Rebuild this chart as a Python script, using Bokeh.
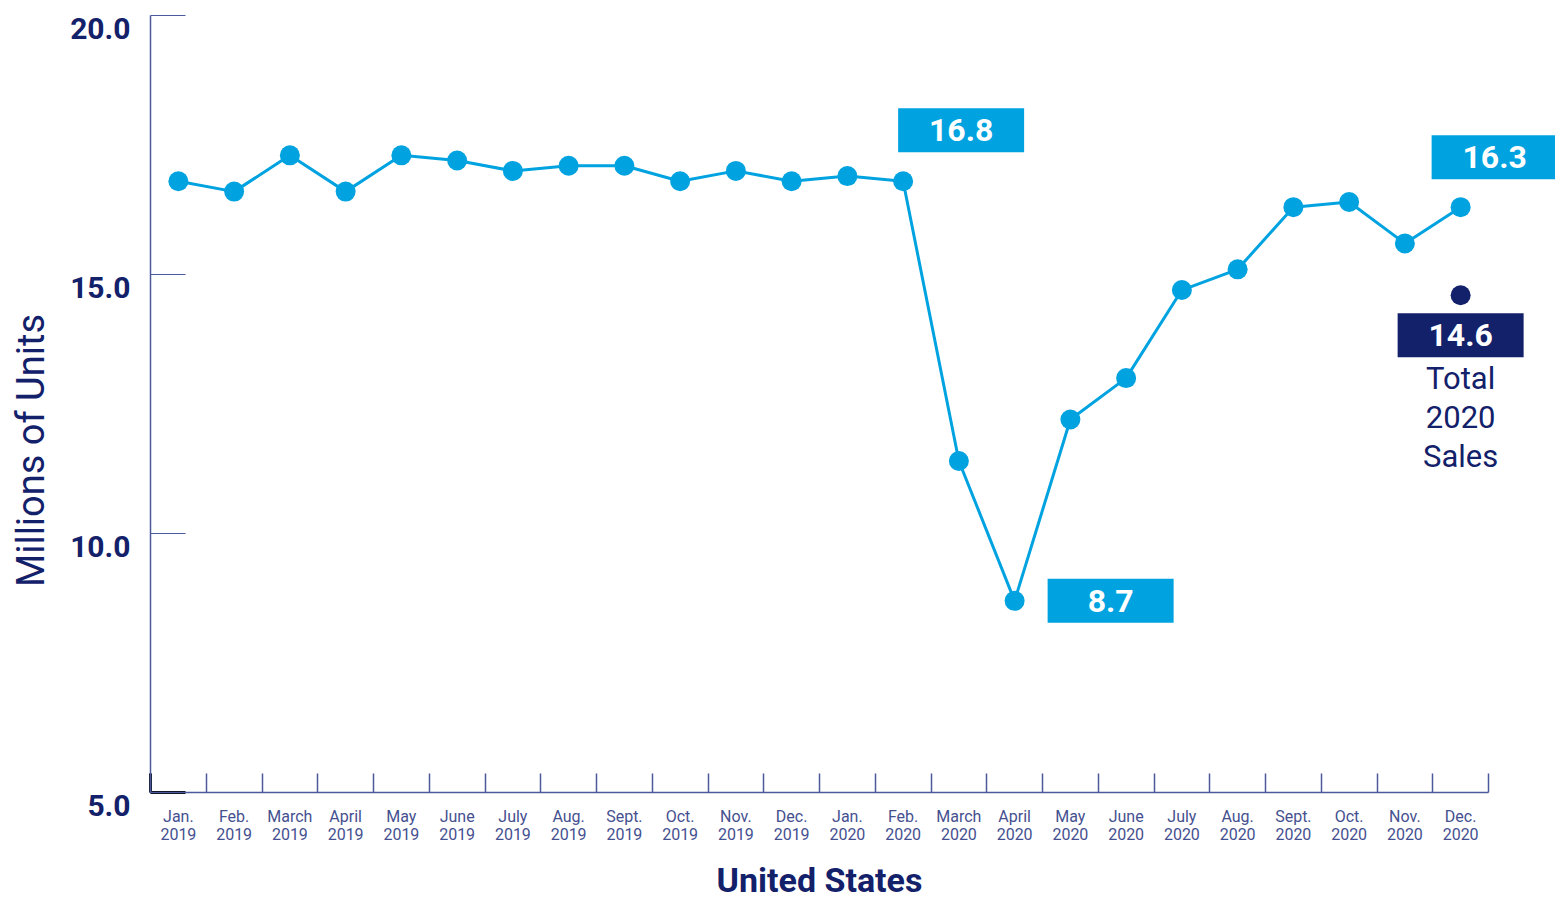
import math
from bokeh.plotting import figure
from bokeh.models import Range1d, FixedTicker, LinearAxis
from bokeh.core.properties import value
from bokeh.embed import file_html
from bokeh.resources import INLINE

# ---------------- data ----------------
months = ["Jan.", "Feb.", "March", "April", "May", "June", "July", "Aug.",
          "Sept.", "Oct.", "Nov.", "Dec."] * 2
years = ["2019"] * 12 + ["2020"] * 12
sales = [16.8, 16.6, 17.3, 16.6, 17.3, 17.2, 17.0, 17.1, 17.1, 16.8, 17.0, 16.8,
         16.9, 16.8, 11.4, 8.7, 12.2, 13.0, 14.7, 15.1, 16.3, 16.4, 15.6, 16.3]
total_2020 = 14.6
total_lines = ["Total", "2020", "Sales"]
callout_idx = [13, 15, 23]
y_ticks = [5, 10, 15, 20]
y_tick_labels = ["5.0", "10.0", "15.0", "20.0"]
x_title = "United States"
y_title = "Millions of Units"

# ---------------- styles / geometry ----------------
BLUE = "#00a3e0"
NAVY = "#13206a"
AXIS = "#4b5a9b"
TICKLAB = "#45508f"
FONT = "Roboto"

W, H = 1555, 900
AX_LEFT, AX_TOP = 150, 15            # where the axes' origin / top sit on the canvas
AXIS_W, AXIS_H = 1338.0, 777.0       # pixel length of the drawn x / y axes
n = len(sales)
px_x = AXIS_W / n
px_y = AXIS_H / (y_ticks[-1] - y_ticks[0])
x_start = -AX_LEFT / px_x
x_end = (W - AX_LEFT) / px_x
y_end = y_ticks[-1] + AX_TOP / px_y
y_start = y_ticks[0] - (H - AX_TOP - AXIS_H) / px_y
LABEL_SHIFT = 13                      # y tick labels sit this many px below their tick

xs = [i + 0.5 for i in range(n)]

p = figure(width=W, height=H, output_backend="svg", toolbar_location=None,
           x_range=Range1d(x_start, x_end), y_range=Range1d(y_start, y_end),
           min_border=0, min_border_left=0, min_border_right=0,
           min_border_top=0, min_border_bottom=0)
p.outline_line_color = None
p.xgrid.grid_line_color = None
p.ygrid.grid_line_color = None
p.background_fill_color = "white"

# x axis, pinned at y = 5
xa = p.xaxis[0]
xa.fixed_location = y_ticks[0]
xa.ticker = FixedTicker(ticks=xs, minor_ticks=list(range(0, n + 1)))
xa.bounds = (0, n)
xa.major_label_overrides = {x: f"{m}\n{y}" for x, m, y in zip(xs, months, years)}
xa.major_tick_line_color = None
xa.minor_tick_in = 19
xa.minor_tick_out = 0
xa.minor_tick_line_color = AXIS
xa.minor_tick_line_width = 1.5
xa.axis_line_color = AXIS
xa.axis_line_width = 1.5
xa.major_label_text_font = FONT
xa.major_label_text_font_size = "16px"
xa.major_label_text_color = TICKLAB
xa.major_label_text_line_height = 0.95
xa.major_label_standoff = 8

# y axis line + tick marks, pinned at x = 0
ya = p.yaxis[0]
ya.fixed_location = 0
ya.ticker = FixedTicker(ticks=[], minor_ticks=y_ticks)
ya.bounds = (y_ticks[0], y_ticks[-1])
ya.minor_tick_in = 35
ya.minor_tick_out = 0
ya.minor_tick_line_color = AXIS
ya.minor_tick_line_width = 1.2
ya.major_tick_line_color = None
ya.axis_line_color = AXIS
ya.axis_line_width = 1.5
ya.major_label_standoff = 0

# y tick labels (label-only axis, labels slightly below their ticks)
lab_ticks = [t - LABEL_SHIFT / px_y for t in y_ticks]
ylab = LinearAxis(fixed_location=0,
                  ticker=FixedTicker(ticks=lab_ticks, minor_ticks=[]),
                  major_label_overrides=dict(zip(lab_ticks, y_tick_labels)),
                  axis_line_color=None, major_tick_line_color=None,
                  minor_tick_line_color=None, major_tick_out=0, major_tick_in=0,
                  major_label_standoff=20, major_label_text_font=FONT,
                  major_label_text_font_style="bold",
                  major_label_text_font_size="30px",
                  major_label_text_color=NAVY)
p.add_layout(ylab, "left")

# axis titles
p.text([x_start + 30 / px_x], [y_ticks[0] + (AX_TOP + AXIS_H - 450) / px_y],
       text=[y_title], angle=math.pi / 2, text_align="center",
       text_baseline="middle", text_color=NAVY, text_font=value(FONT),
       text_font_size="38px")
p.text([n / 2], [y_ticks[0] - 87 / px_y], text=[x_title], text_align="center",
       text_baseline="middle", text_color=NAVY, text_font=value(FONT),
       text_font_style="bold", text_font_size="34px")

# black corner at origin
p.segment(x0=[0, 0], y0=[y_ticks[0], y_ticks[0]],
          x1=[0, 35 / px_x], y1=[y_ticks[0] + 19 / px_y, y_ticks[0]],
          line_color="black", line_width=3)

# series
p.line(xs, sales, line_color=BLUE, line_width=3)
p.scatter(xs, sales, size=20, fill_color=BLUE, line_color=None)

# callouts (offsets in pixels)
offsets = {13: (58, 51), 15: (96, 0), 23: (34, 50)}
cx = [xs[i] + offsets[i][0] / px_x for i in callout_idx]
cy = [sales[i] + offsets[i][1] / px_y for i in callout_idx]
p.rect(cx, cy, width=126, height=44, width_units="screen", height_units="screen",
       fill_color=BLUE, line_color=None)
p.text(cx, cy, text=[f"{sales[i]:.1f}" for i in callout_idx],
       text_align="center", text_baseline="middle", text_color="white",
       text_font=value(FONT), text_font_style="bold", text_font_size="32px")

# total 2020
tx = xs[-1]
p.scatter([tx], [total_2020], size=20, fill_color=NAVY, line_color=None)
by = total_2020 - 40 / px_y
p.rect([tx], [by], width=126, height=44, width_units="screen", height_units="screen",
       fill_color=NAVY, line_color=None)
p.text([tx], [by], text=[f"{total_2020:.1f}"], text_align="center",
       text_baseline="middle", text_color="white", text_font=value(FONT),
       text_font_style="bold", text_font_size="32px")
line_off = [83, 122, 161]
p.text([tx] * 3, [total_2020 - d / px_y for d in line_off], text=total_lines,
       text_align="center", text_baseline="middle", text_color=NAVY,
       text_font=value(FONT), text_font_size="31px")

open("out.html", "w").write(file_html(p, INLINE))
